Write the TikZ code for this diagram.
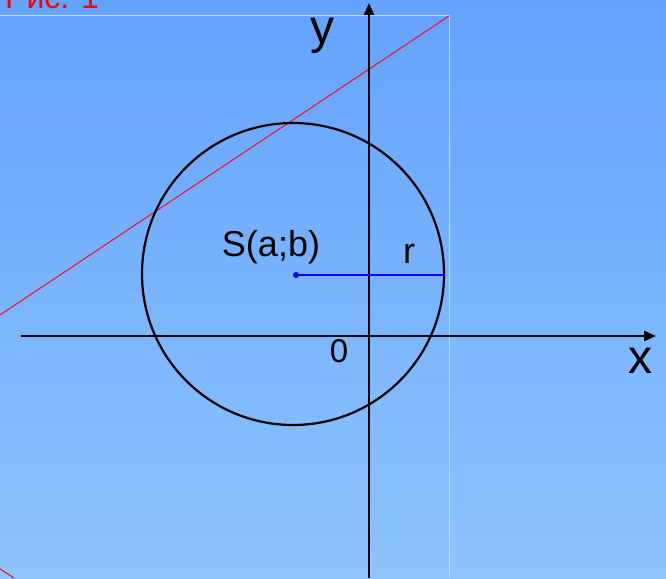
\documentclass[tikz,border=0pt]{standalone}
\usepackage{fontspec}
\setmainfont{Liberation Sans}
\usetikzlibrary{arrows.meta}
\definecolor{bgtop}{RGB}{100,162,255}
\definecolor{bgbot}{RGB}{142,197,252}
\definecolor{frameline}{RGB}{200,214,235}
\tikzset{
  axis/.style={line width=2.2pt,-{Triangle[length=12pt,width=10pt]}},
  lbl/.style={inner sep=0pt,text=black},
}
\begin{document}
\begin{tikzpicture}[x=1pt,y=-1pt]
\useasboundingbox (0,0) rectangle (666,578);
\shade[top color=bgtop,bottom color=bgbot] (0,0) rectangle (666,578);
% frame lines
\coordinate (f0) at (0,15.5);
\coordinate (f1) at (449,15.5);
\coordinate (f2) at (449,578);
\draw[frameline,line width=1pt] (f0) -- (f1) -- (f2);
% red line
\coordinate (r0) at (0,315);
\coordinate (r1) at (449,16);
\draw[red,line width=0.9pt] (r0) -- (r1);
\coordinate (r2) at (-2,567.5);
\coordinate (r3) at (14,578);
\draw[red,line width=0.9pt] (r2) -- (r3);
% axes
\coordinate (xs) at (21,336);
\coordinate (xe) at (656,336);
\coordinate (ys) at (369,578);
\coordinate (ye) at (369,3);
\draw[axis] (xs) -- (xe);
\draw[axis] (ys) -- (ye);
% circle
\coordinate (S) at (293,274);
\draw[black,line width=2.2pt] (S) circle[radius=151];
% radius
\node[circle,fill=blue,inner sep=0pt,minimum size=6pt] (dot) at (296,275) {};
\coordinate (rend) at (444,275);
\draw[blue,line width=2pt] (dot.center) -- (rend);
% labels
\node[lbl,font=\fontsize{36}{36}\selectfont] (Slab) at (271,247) {S(a;b)};
\node[lbl,font=\fontsize{36}{36}\selectfont] (rlab) at (409,254) {r};
\node[lbl,font=\fontsize{33}{33}\selectfont] (olab) at (339,351) {0};
\node[lbl,font=\fontsize{48}{48}\selectfont] (ylab) at (322,36) {y};
\node[lbl,font=\fontsize{48}{48}\selectfont] (xlab) at (640,361) {x};
\node[lbl,anchor=base west,text=red,font=\fontsize{32}{32}\selectfont] (title) at (5,9) {Рис. 1};
\end{tikzpicture}
\end{document}
